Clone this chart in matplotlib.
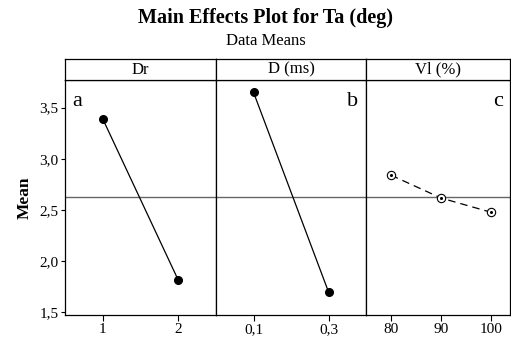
import matplotlib
matplotlib.use("Agg")
import matplotlib.pyplot as plt

plt.rcParams['font.family'] = ['Liberation Serif', 'DejaVu Serif']

# data
factors = ["Dr", "D (ms)", "Vl (%)"]
letters = ["a", "b", "c"]
dr_levels = ["1", "2"]
dr_means = [3.39, 1.815]
d_levels = ["0,1", "0,3"]
d_means = [3.65, 1.70]
vl_levels = ["80", "90", "100"]
vl_means = [2.84, 2.617, 2.478]
grand_mean = 2.63

yticks = [1.5, 2.0, 2.5, 3.0, 3.5]
ytick_labels = ["1,5", "2,0", "2,5", "3,0", "3,5"]

W, H = 511, 342
fig = plt.figure(figsize=(W / 100, H / 100), dpi=100)

def px_axes(x0, y0, x1, y1):
    # pixel box (top-left origin) -> figure axes
    return fig.add_axes([x0 / W, (H - y1) / H, (x1 - x0) / W, (y1 - y0) / H])

edges = [65, 216, 366, 510]
panels = [(dr_levels, dr_means, "solid"), (d_levels, d_means, "solid"), (vl_levels, vl_means, "dashed")]
letter_pos = ["left", "right", "right"]

for i, (levels, means, style) in enumerate(panels):
    ax = px_axes(edges[i], 80, edges[i + 1], 315)
    xs = list(range(len(levels)))
    ax.axhline(grand_mean, color="#666666", lw=1.0, zorder=1)
    if style == "solid":
        ax.plot(xs, means, color="black", lw=0.9, marker="o", ms=5.5,
                mfc="black", mec="black", zorder=3)
    else:
        ax.plot(xs, means, color="black", lw=0.9, ls=(0, (6, 4)), marker="o", ms=6,
                mfc="white", mec="black", mew=0.8, zorder=3)
        ax.plot(xs, means, ls="none", marker="o", ms=1.2, color="black", zorder=4)
    if i == 2:
        ax.set_xlim(-0.5, 2.38)
    else:
        ax.set_xlim(-0.5, len(levels) - 0.5)
    ax.set_ylim(1.474, 3.77)
    ax.set_xticks(xs)
    ax.set_xticklabels(levels, fontsize=11)
    ax.set_yticks(yticks)
    if i == 0:
        ax.set_yticklabels(ytick_labels, fontsize=11)
        ax.set_ylabel("Mean", fontsize=12.5, fontweight="bold", labelpad=5)
    else:
        ax.tick_params(axis="y", left=False, labelleft=False)
    ax.tick_params(axis="y", direction="out", length=3, width=0.8, pad=1.5)
    ax.tick_params(axis="x", direction="out", length=4, width=0.8, pad=2)
    for s in ax.spines.values():
        s.set_linewidth(0.9)
    if letter_pos[i] == "left":
        ax.text(0.045, 0.95, letters[i], transform=ax.transAxes, fontsize=16, va="top", ha="left")
    else:
        ax.text(0.95, 0.95, letters[i], transform=ax.transAxes, fontsize=16, va="top", ha="right")

    hdr = px_axes(edges[i], 59, edges[i + 1], 80)
    hdr.set_xticks([])
    hdr.set_yticks([])
    for s in hdr.spines.values():
        s.set_linewidth(0.9)
    hdr.text(0.5, 0.5, factors[i], transform=hdr.transAxes, ha="center", va="center", fontsize=12)

fig.text(266 / W, 1 - 18 / H, "Main Effects Plot for Ta (deg)", ha="center", va="center",
         fontsize=14.5, fontweight="bold")
fig.text(266 / W, 1 - 41 / H, "Data Means", ha="center", va="center", fontsize=12)

fig.savefig("out.png", dpi=100)
